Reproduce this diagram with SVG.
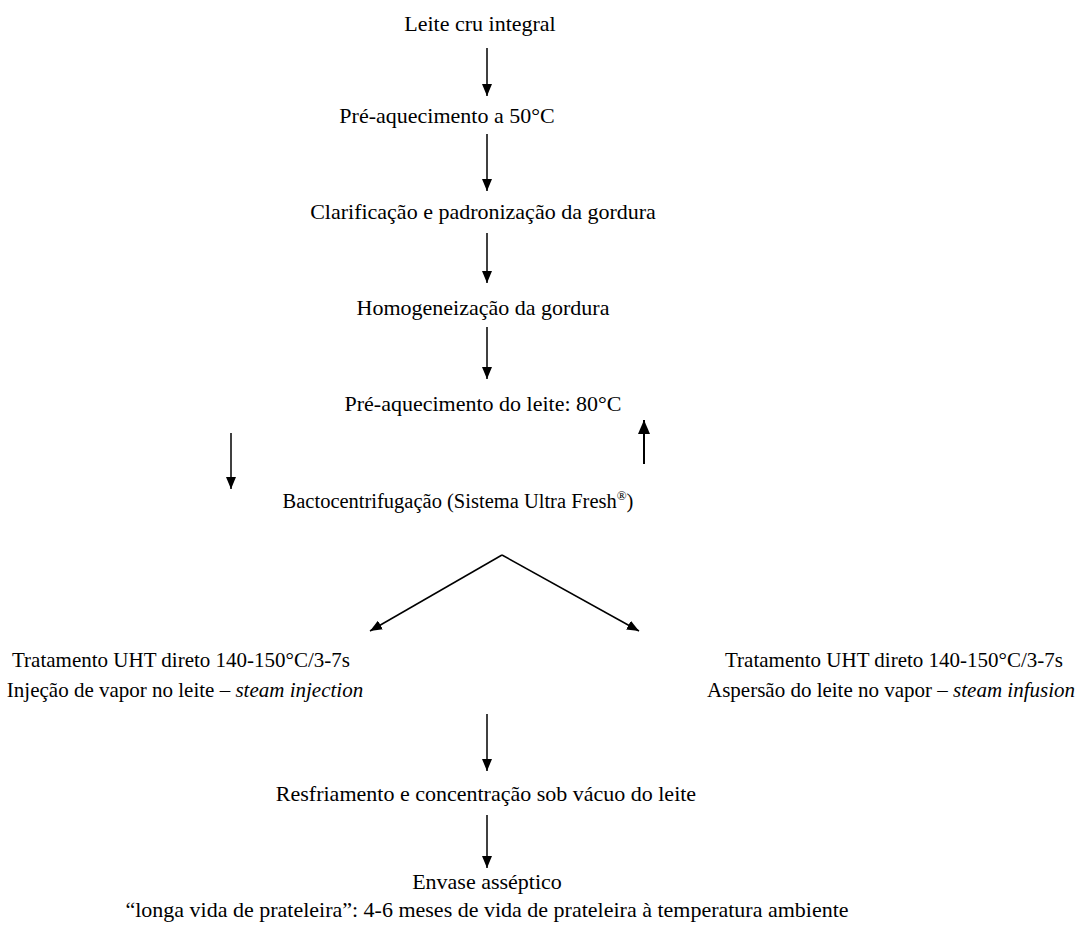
<svg xmlns="http://www.w3.org/2000/svg" width="1085" height="930" viewBox="0 0 1085 930">
  <defs>
    <marker id="head" viewBox="0 0 12 10" refX="12" refY="5" markerWidth="12" markerHeight="10" markerUnits="userSpaceOnUse" orient="auto">
      <path d="M0,0 L12,5 L0,10 Z" fill="#000"/>
    </marker>
    <marker id="headBig" viewBox="0 0 14 12" refX="14" refY="6" markerWidth="14" markerHeight="12" markerUnits="userSpaceOnUse" orient="auto">
      <path d="M0,0 L14,6 L0,12 Z" fill="#000"/>
    </marker>
  </defs>
  <style>
    .lbl { font-size: 22px; fill: #000; text-anchor: middle; }
    .small { font-size: 20.5px; }
    .side { font-size: 21px; }
    .conn line { stroke: #000; stroke-width: 1.5; fill: none; marker-end: url(#head); }
    .conn line.big { stroke-width: 2; marker-end: url(#headBig); }
  </style>
  <rect width="1085" height="930" fill="#fff"/>

  <g font-family="'Liberation Serif', 'Times New Roman', serif">
    <g id="n1"><text class="lbl" x="480" y="31">Leite cru integral</text></g>
    <g id="n2"><text class="lbl" x="447" y="123">Pré-aquecimento a 50°C</text></g>
    <g id="n3"><text class="lbl" x="483" y="219">Clarificação e padronização da gordura</text></g>
    <g id="n4"><text class="lbl" x="483" y="315">Homogeneização da gordura</text></g>
    <g id="n5"><text class="lbl" x="483" y="411">Pré-aquecimento do leite: 80°C</text></g>
    <g id="n6"><text class="lbl small" x="458" y="508">Bactocentrifugação (Sistema Ultra Fresh<tspan font-size="13" dy="-8">®</tspan><tspan dy="8">)</tspan></text></g>
    <g id="n7">
      <text class="lbl side" x="181" y="667">Tratamento UHT direto 140-150°C/3-7s</text>
      <text class="lbl side" x="185" y="697">Injeção de vapor no leite – <tspan font-style="italic">steam injection</tspan></text>
    </g>
    <g id="n8">
      <text class="lbl side" x="894" y="667">Tratamento UHT direto 140-150°C/3-7s</text>
      <text class="lbl side" x="891" y="697">Aspersão do leite no vapor – <tspan font-style="italic">steam infusion</tspan></text>
    </g>
    <g id="n9"><text class="lbl" x="486" y="801">Resfriamento e concentração sob vácuo do leite</text></g>
    <g id="n10">
      <text class="lbl" x="487" y="889">Envase asséptico</text>
      <text class="lbl" x="487" y="917">“longa vida de prateleira”: 4-6 meses de vida de prateleira à temperatura ambiente</text>
    </g>
  </g>

  <g class="conn">
    <line x1="487" y1="48" x2="487" y2="96"/>
    <line x1="487" y1="134" x2="487" y2="191"/>
    <line x1="487" y1="233" x2="487" y2="283"/>
    <line x1="487" y1="327" x2="487" y2="379"/>
    <line x1="231" y1="433" x2="231" y2="489"/>
    <line class="big" x1="644" y1="464" x2="644" y2="420"/>
    <line x1="502" y1="555" x2="370" y2="631"/>
    <line x1="502" y1="555" x2="639" y2="631"/>
    <line x1="487" y1="714" x2="487" y2="771"/>
    <line x1="487" y1="815" x2="487" y2="868"/>
  </g>
</svg>
